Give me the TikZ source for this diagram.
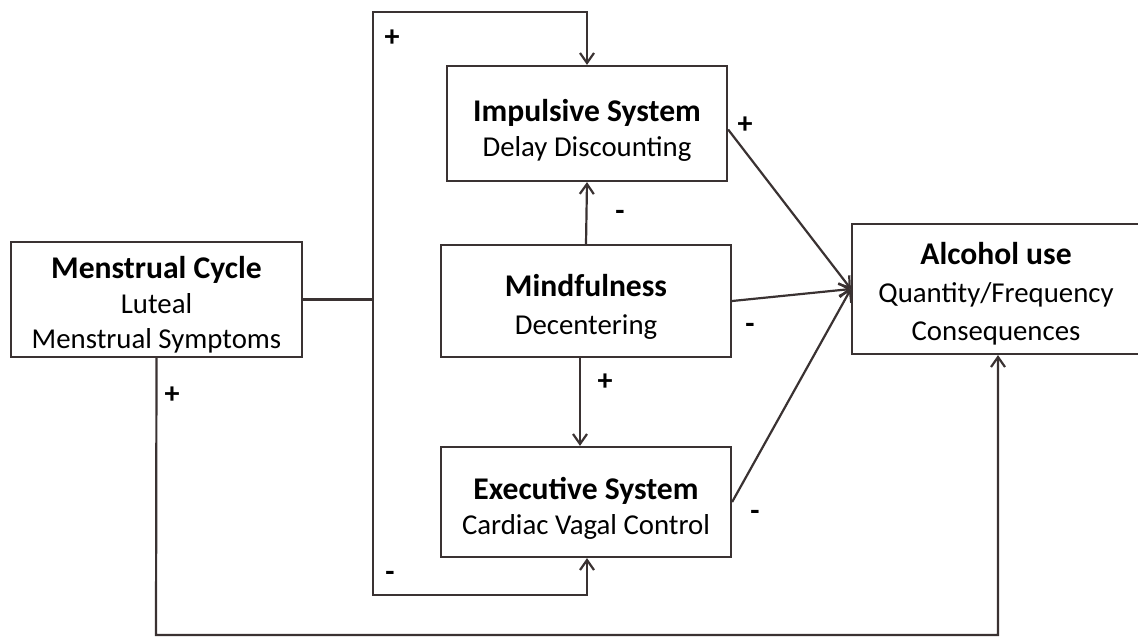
\documentclass[tikz,border=0pt]{standalone}
\usepackage{fontspec}
\setmainfont{Carlito}
\usetikzlibrary{arrows.meta,positioning}
\definecolor{linecol}{RGB}{58,50,50}
\newcommand{\headtxt}[1]{{\fontsize{15.8}{17.5}\selectfont\bfseries #1}}

\begin{document}
\begin{tikzpicture}
    [x=0.5pt,y=-0.5pt,
    box/.style={rectangle,draw=linecol,line width=1.1pt,inner sep=0pt},
    txt/.style={align=center,font=\fontsize{14.4}{17.5}\selectfont,inner sep=0pt},
    sign/.style={font=\fontsize{15}{15}\selectfont\bfseries,inner sep=0pt},
    link/.style={draw=linecol,line width=1.1pt},
    arr/.style={link,-{Straight Barb[length=5pt,width=7pt]}}]
    \useasboundingbox (0,0) rectangle (1138,637);
    % boxes
    \node (mc) at (156.5,299.5) [box,minimum width=145.5pt,minimum height=57.5pt] {};
    \node (imp) at (587,123.5) [box,minimum width=140pt,minimum height=57.5pt] {};
    \node (mind) at (586,301) [box,minimum width=145pt,minimum height=56pt] {};
    \node (exe) at (586,502) [box,minimum width=145pt,minimum height=55pt] {};
    \node (alc) at (996,289) [box,minimum width=144pt,minimum height=65pt] {};
    % texts in the boxes
    \node (mctext) at ([yshift=-2.5pt]mc.center) [txt]
      {\headtxt{Menstrual Cycle}\\Luteal\\Menstrual Symptoms};
    \node (imptext) at ([yshift=-3.5pt]imp.center) [txt]
      {\headtxt{Impulsive System}\\Delay Discounting};
    \node (mindtext) at ([yshift=-3pt]mind.center) [txt,font=\fontsize{14.4}{19}\selectfont]
      {\headtxt{Mindfulness}\\Decentering};
    \node (exetext) at ([yshift=-3pt]exe.center) [txt]
      {\headtxt{Executive System}\\Cardiac Vagal Control};
    \node (alctext) at ([yshift=-2.5pt]alc.center) [txt,font=\fontsize{14.4}{19}\selectfont]
      {\headtxt{Alcohol use}\\Quantity/Frequency\\Consequences};
    % corners of the feedback lines
    \coordinate (split) at (373,299.5);
    \coordinate (topl) at (373,12);
    \coordinate (botl) at (373,595);
    \coordinate (floor) at (156,635);
    % connectors
    \draw[link] (mc.east) -- (split);
    \draw[arr] (split) -- (topl) -| (imp.north);
    \draw[arr] (split) -- (botl) -| ([xshift=0.5pt]exe.south);
    \draw[arr] (mc.south) -- (floor) -| ([xshift=1pt]alc.south);
    \draw[arr] (mind.north) -- (imp.south);
    \draw[arr] ([xshift=-3pt]mind.south) -- ([xshift=-3pt]exe.north);
    \draw[arr] ([yshift=-3pt]imp.east) -- (alc.west);
    \draw[arr] (mind.east) -- (alc.west);
    \draw[arr] (exe.east) -- (alc.west);
    % signs
    \node (s1) at (392,38) [sign] {+};
    \node (s2) at (390,576) [sign] {-};
    \node (s3) at (172,395) [sign] {+};
    \node (s4) at (620,215) [sign] {-};
    \node (s5) at (605,382) [sign] {+};
    \node (s6) at (745,125) [sign] {+};
    \node (s7) at (750,328) [sign] {-};
    \node (s8) at (755,515) [sign] {-};
\end{tikzpicture}
\end{document}
